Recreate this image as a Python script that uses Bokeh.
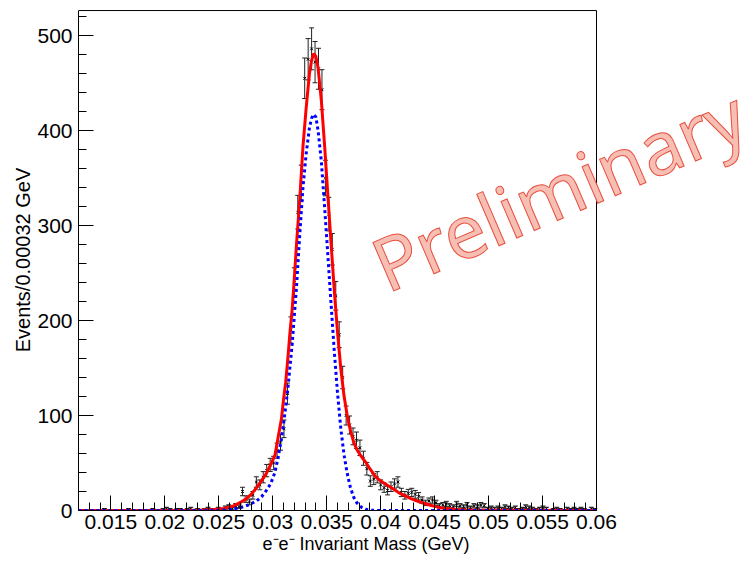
import numpy as np
from bokeh.plotting import figure
from bokeh.models import (ColumnDataSource, Whisker, TeeHead, Label, Title,
                          FixedTicker, CustomJSTickFormatter)
from bokeh.embed import file_html
from bokeh.resources import INLINE

# ---------------- data ----------------
bin_low = 0.012
bin_width = 0.00032

counts = [
    0, 0, 0, 0, 0, 0, 0, 1, 0, 0,
    0, 0, 0, 0, 1, 0, 0, 0, 0, 0,
    0, 1, 0, 0, 1, 2, 1, 0, 1, 1,
    0, 1, 2, 0, 1, 0, 1, 2, 1, 1,
    2, 1, 3, 4, 2, 5, 4, 20, 12, 9,
    16, 30, 27, 35, 42, 48, 50, 63, 72, 86,
    123, 190, 240, 314, 345, 455, 475, 486, 472, 465,
    443, 350, 312, 275, 226, 185, 140, 100, 90, 78,
    74, 66, 55, 44, 31, 33, 35, 27, 24, 21,
    25, 28, 30, 19, 16, 18, 19, 17, 15, 11,
    8, 10, 11, 8, 5, 6, 7, 5, 4, 7,
    5, 4, 6, 3, 5, 4, 6, 5, 2, 3,
    2, 3, 2, 4, 3, 2, 3, 1, 2, 4,
    3, 2, 1, 2, 3, 2, 0, 1, 2, 1,
    0, 2, 1, 2, 1, 2, 1, 0, 2, 1,
]

# total fit (red, solid)
fit_x = [0.0120, 0.0220, 0.0235, 0.0245, 0.0255, 0.0263, 0.0270, 0.0275,
         0.0280, 0.0285, 0.0290, 0.0294, 0.0298, 0.0302, 0.0305, 0.0308,
         0.0310, 0.0312, 0.0314, 0.0316, 0.0318, 0.0320, 0.0322, 0.0325,
         0.0328, 0.0331, 0.0334, 0.0336, 0.0338, 0.0340, 0.0342, 0.0345,
         0.0348, 0.0351, 0.0354, 0.0357, 0.0360, 0.0363, 0.0366, 0.0369,
         0.0372, 0.0375, 0.0378, 0.0382, 0.0386, 0.0390, 0.0395, 0.0400,
         0.0410, 0.0418, 0.0428, 0.0437, 0.0446, 0.0455, 0.0465, 0.0474,
         0.0490, 0.0600]
fit_y = [0, 0, 0.4, 1.0, 2.2, 4.5, 8.5, 12,
         17, 24, 32, 39, 48, 58, 77, 96,
         117, 135, 160, 188, 212, 244, 280, 327,
         383, 424, 460, 474, 481, 478, 466, 432,
         385, 333, 282, 232, 188, 150, 121, 100,
         84, 72, 64, 57, 51, 44, 36, 31,
         24, 18, 12.5, 8.7, 5.5, 3, 1.6, 0.8,
         0.2, 0]

# signal component (blue, dotted)
sig_x = [0.0120, 0.0245, 0.0255, 0.0263, 0.0270, 0.0278, 0.0285, 0.0290,
         0.0294, 0.0298, 0.0302, 0.0305, 0.0308, 0.0310, 0.0314, 0.0318,
         0.0322, 0.0325, 0.0328, 0.0331, 0.0334, 0.0336, 0.0338, 0.0340,
         0.0342, 0.0345, 0.0348, 0.0351, 0.0354, 0.0357, 0.0360, 0.0363,
         0.0366, 0.0369, 0.0372, 0.0375, 0.0378, 0.0382, 0.0386, 0.0392,
         0.0400, 0.0600]
sig_y = [0, 0, 0.5, 1.5, 3, 6, 10, 15,
         21, 28, 40, 56, 75, 91, 128, 175,
         235, 290, 340, 376, 403, 413, 417, 414,
         400, 368, 320, 270, 218, 168, 124, 87,
         59, 39, 24, 14, 8, 3.5, 1.3, 0.2,
         0, 0]

x_lo, x_hi = 0.012, 0.060
y_lo, y_hi = 0, 526.3
x_major = [0.015, 0.02, 0.025, 0.03, 0.035, 0.04, 0.045, 0.05, 0.055, 0.06]
x_minor = [round(0.012 + 0.001 * k, 3) for k in range(49)]
y_major = [0, 100, 200, 300, 400, 500]
y_minor = [20 * k for k in range(27)]
x_title = "e\u207be\u207b Invariant Mass (GeV)"
y_title = "Events/0.00032 GeV"
watermark = "Preliminary"

# ---------------- figure ----------------
FONT = "Liberation Sans"
LEFT, FRAME_W, CANVAS_W = 78, 518, 750
# frame extends to the right edge so the watermark is not clipped
x_view_hi = x_lo + (x_hi - x_lo) * (CANVAS_W - LEFT) / FRAME_W
y_view_hi = y_hi + 1.1

cnt = np.array(counts, dtype=float)
centers = bin_low + (np.arange(len(counts)) + 0.5) * bin_width
err = np.sqrt(cnt)
m = cnt > 0
src = ColumnDataSource(dict(x=centers[m], y=cnt[m], lo=(cnt - err)[m], hi=(cnt + err)[m]))

p = figure(width=750, height=563, x_range=(x_lo, x_view_hi), y_range=(y_lo, y_view_hi),
           output_backend="svg", toolbar_location=None,
           min_border_left=LEFT, min_border_right=0,
           min_border_top=9, min_border_bottom=53)
p.background_fill_color = "white"
p.border_fill_color = "white"
p.outline_line_color = None
p.grid.visible = False

p.xaxis.ticker = FixedTicker(ticks=x_major, minor_ticks=x_minor)
p.yaxis.ticker = FixedTicker(ticks=y_major, minor_ticks=y_minor)
p.xaxis.bounds = (x_lo, x_hi)
p.yaxis.bounds = (y_lo, y_hi)
p.xaxis.formatter = CustomJSTickFormatter(code="return tick.toFixed(3).replace(/0+$/, '');")
p.yaxis.formatter = CustomJSTickFormatter(code="return tick.toFixed(0);")
for ax in (p.xaxis, p.yaxis):
    ax.major_tick_in = 15
    ax.major_tick_out = 0
    ax.minor_tick_in = 8
    ax.minor_tick_out = 0
    ax.axis_line_color = "black"
    ax.major_tick_line_color = "black"
    ax.minor_tick_line_color = "black"
    ax.major_label_text_font = FONT
    ax.major_label_text_font_size = "21px"
    ax.major_label_text_color = "black"
p.xaxis.major_label_standoff = 4
p.yaxis.major_label_standoff = 6
p.yaxis.axis_label = y_title
p.yaxis.axis_label_text_font = FONT
p.yaxis.axis_label_text_font_size = "20px"
p.yaxis.axis_label_text_font_style = "normal"
p.yaxis.axis_label_text_color = "black"
p.yaxis.axis_label_standoff = 0

# frame top and right borders
p.segment(x0=[x_lo, x_hi], y0=[y_hi, y_lo], x1=[x_hi, x_hi], y1=[y_hi, y_hi],
          line_color="black", line_width=1)

# data points with error bars
eb = Whisker(source=src, base="x", upper="hi", lower="lo",
             line_color="#222222", line_width=1,
             upper_head=TeeHead(size=5, line_color="#222222", line_width=1),
             lower_head=TeeHead(size=5, line_color="#222222", line_width=1))
p.add_layout(eb)
p.scatter("x", "y", source=src, marker="x", size=4, line_color="black", line_width=1)

# fit curves
p.line(fit_x, fit_y, line_color="#ff0000", line_width=3)
p.line(sig_x, sig_y, line_color="#0000ff", line_width=3, line_dash="3 3")

# x-axis title
p.add_layout(Title(text=x_title, align="left", offset=184, standoff=0,
                   text_font=FONT, text_font_size="18px", text_font_style="normal",
                   text_color="black"), "below")

# watermark
p.add_layout(Label(x=0.03956, y=255.6, text=watermark, angle=23.3,
                   angle_units="deg", text_font="Noto Sans",
                   text_font_size="74px", text_color="#f7beb3",
                   text_outline_color="#e8503f",
                   text_align="left", text_baseline="alphabetic"))

open("out.html", "w").write(file_html(p, INLINE))
